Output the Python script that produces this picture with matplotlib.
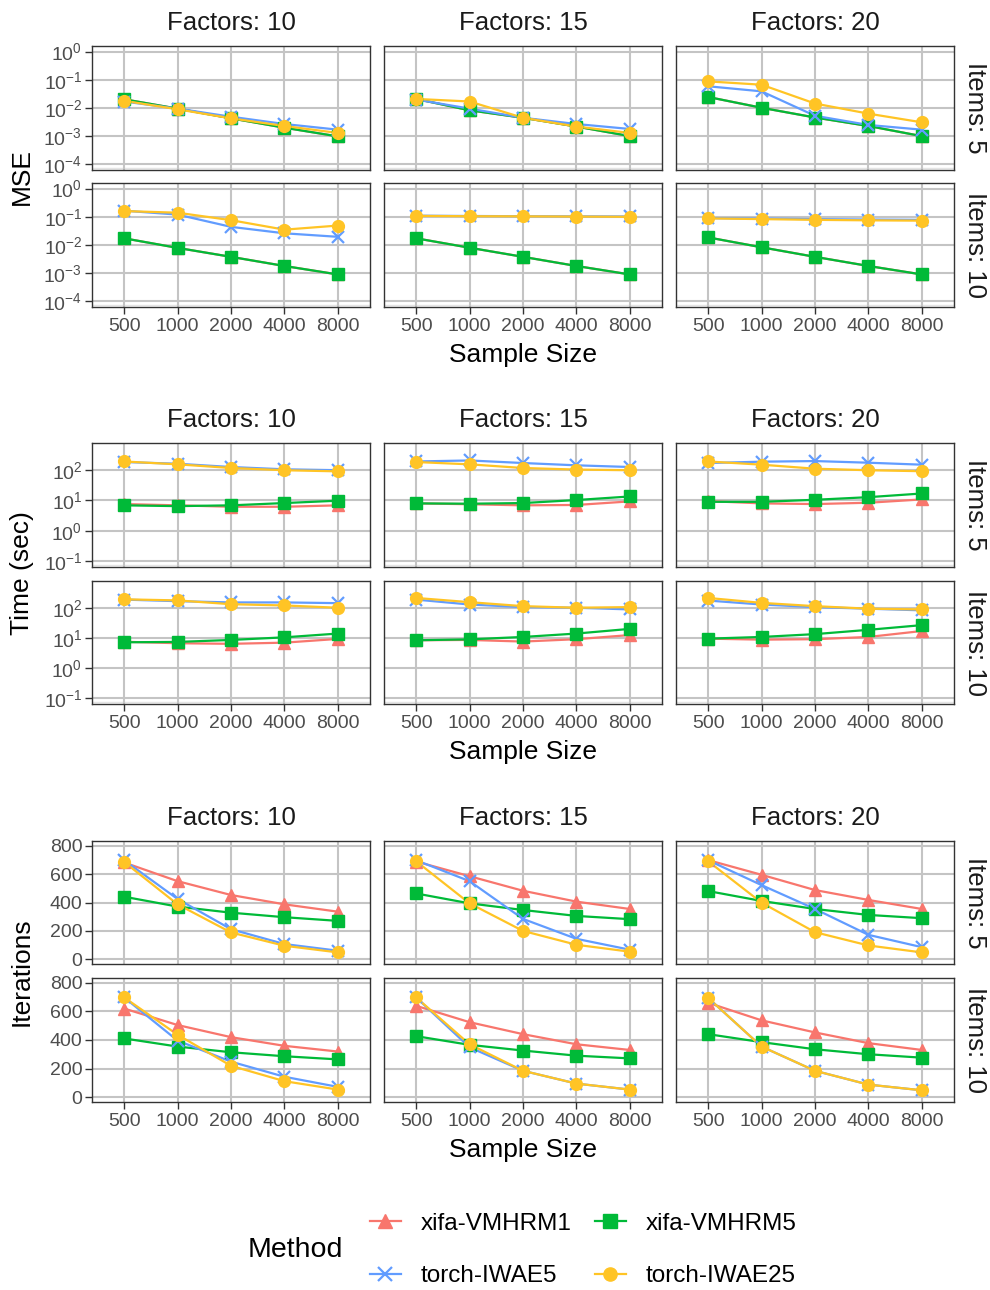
import matplotlib.pyplot as plt
from matplotlib.lines import Line2D
from matplotlib.ticker import FixedLocator, LogFormatterSciNotation, NullLocator

plt.rcParams["font.family"] = ["Liberation Sans", "DejaVu Sans"]
plt.rcParams["mathtext.fontset"] = "custom"
plt.rcParams["mathtext.rm"] = "Liberation Sans"
plt.rcParams["mathtext.it"] = "Liberation Sans:italic"
plt.rcParams["mathtext.default"] = "regular"

# facets and methods
sample_sizes = ["500", "1000", "2000", "4000", "8000"]
factors = [10, 15, 20]
items = [5, 10]
methods = ["xifa-VMHRM1", "xifa-VMHRM5", "torch-IWAE5", "torch-IWAE25"]
colors = ["#F8766D", "#00BA38", "#619CFF", "#FFC425"]
markers = ["^", "s", "x", "o"]

# MSE, rows of each list = Factors 10 / 15 / 20
mse_i5_vmhrm1 = [[0.0204, 0.0095, 0.0043, 0.0020, 0.00098],
                 [0.021, 0.0083, 0.0045, 0.0022, 0.0010],
                 [0.0246, 0.0102, 0.0046, 0.0023, 0.0010]]
mse_i5_vmhrm5 = [[0.0204, 0.0095, 0.0043, 0.0020, 0.00098],
                 [0.021, 0.0083, 0.0045, 0.0022, 0.0010],
                 [0.0246, 0.0102, 0.0046, 0.0023, 0.0010]]
mse_i5_iwae5 = [[0.017, 0.0095, 0.0049, 0.0027, 0.0017],
                [0.020, 0.0095, 0.0045, 0.0027, 0.0018],
                [0.059, 0.039, 0.0053, 0.0025, 0.0017]]
mse_i5_iwae25 = [[0.018, 0.009, 0.0043, 0.0023, 0.0013],
                 [0.021, 0.017, 0.0045, 0.0022, 0.0013],
                 [0.088, 0.067, 0.0144, 0.0063, 0.0031]]
mse_i10_vmhrm1 = [[0.0173, 0.0079, 0.0038, 0.0018, 0.0009],
                  [0.0173, 0.0080, 0.0038, 0.0018, 0.0009],
                  [0.0186, 0.0083, 0.0038, 0.0018, 0.0009]]
mse_i10_vmhrm5 = [[0.0173, 0.0079, 0.0038, 0.0018, 0.0009],
                  [0.0173, 0.0080, 0.0038, 0.0018, 0.0009],
                  [0.0186, 0.0083, 0.0038, 0.0018, 0.0009]]
mse_i10_iwae5 = [[0.165, 0.12, 0.044, 0.026, 0.0195],
                 [0.11, 0.107, 0.105, 0.104, 0.103],
                 [0.09, 0.087, 0.083, 0.080, 0.078]]
mse_i10_iwae25 = [[0.16, 0.14, 0.076, 0.035, 0.049],
                  [0.108, 0.105, 0.104, 0.102, 0.100],
                  [0.088, 0.083, 0.078, 0.075, 0.073]]

# Time (sec)
time_i5_vmhrm1 = [[7.6, 6.9, 6.2, 6.2, 6.9],
                  [8.0, 7.5, 6.9, 7.1, 9.3],
                  [9.5, 8.0, 7.6, 8.4, 10.8]]
time_i5_vmhrm5 = [[6.9, 6.5, 6.9, 8.2, 9.8],
                  [8.0, 7.8, 8.2, 10.3, 13.5],
                  [9.0, 9.0, 10.5, 12.8, 16.9]]
time_i5_iwae5 = [[182, 160, 125, 105, 98],
                 [190, 205, 169, 142, 125],
                 [169, 187, 196, 173, 149]]
time_i5_iwae25 = [[190, 153, 116, 98, 90],
                  [182, 153, 116, 103, 98],
                  [190, 149, 110, 98, 91]]
time_i10_vmhrm1 = [[7.5, 6.7, 6.4, 7.0, 9.3],
                   [8.4, 8.6, 7.6, 9.1, 12.5],
                   [9.5, 8.8, 9.1, 10.8, 17.0]]
time_i10_vmhrm5 = [[7.2, 7.4, 8.6, 10.5, 14.0],
                   [8.4, 9.0, 10.8, 14.0, 20.0],
                   [9.5, 10.8, 13.4, 18.6, 26.6]]
time_i10_iwae5 = [[186, 165, 150, 150, 142],
                  [186, 128, 105, 100, 88],
                  [173, 128, 105, 93, 82]]
time_i10_iwae25 = [[190, 175, 131, 119, 100],
                   [211, 153, 113, 100, 105],
                   [211, 145, 113, 93, 88]]

# Iterations
iter_i5_vmhrm1 = [[683, 551, 453, 387, 335],
                  [690, 586, 483, 406, 354],
                  [700, 596, 488, 418, 354]]
iter_i5_vmhrm5 = [[441, 371, 328, 296, 270],
                  [464, 394, 347, 305, 282],
                  [481, 411, 354, 312, 289]]
iter_i5_iwae5 = [[699, 425, 211, 106, 59],
                 [699, 551, 284, 143, 66],
                 [699, 523, 354, 171, 84]]
iter_i5_iwae25 = [[687, 387, 188, 94, 47],
                  [692, 394, 199, 101, 52],
                  [692, 399, 190, 96, 47]]
iter_i10_vmhrm1 = [[621, 505, 420, 359, 319],
                   [640, 525, 441, 370, 330],
                   [661, 538, 453, 378, 330]]
iter_i10_vmhrm5 = [[411, 354, 314, 286, 264],
                   [427, 366, 326, 290, 271],
                   [441, 385, 335, 300, 276]]
iter_i10_iwae5 = [[699, 396, 248, 142, 71],
                  [699, 349, 184, 94, 52],
                  [696, 354, 184, 87, 47]]
iter_i10_iwae25 = [[699, 437, 219, 111, 52],
                   [699, 370, 184, 94, 52],
                   [696, 354, 184, 87, 47]]

blocks = [
    {"ylabel": "MSE", "log": True,
     "data": [[mse_i5_vmhrm1, mse_i5_vmhrm5, mse_i5_iwae5, mse_i5_iwae25],
              [mse_i10_vmhrm1, mse_i10_vmhrm5, mse_i10_iwae5, mse_i10_iwae25]],
     "ticks": [1e-4, 1e-3, 1e-2, 1e-1, 1], "ylim": (10 ** -4.2, 10 ** 0.2), "minor": 10 ** -4.12},
    {"ylabel": "Time (sec)", "log": True,
     "data": [[time_i5_vmhrm1, time_i5_vmhrm5, time_i5_iwae5, time_i5_iwae25],
              [time_i10_vmhrm1, time_i10_vmhrm5, time_i10_iwae5, time_i10_iwae25]],
     "ticks": [0.1, 1, 10, 100], "ylim": (10 ** -1.185, 10 ** 2.885), "minor": 10 ** -1.11},
    {"ylabel": "Iterations", "log": False,
     "data": [[iter_i5_vmhrm1, iter_i5_vmhrm5, iter_i5_iwae5, iter_i5_iwae25],
              [iter_i10_vmhrm1, iter_i10_vmhrm5, iter_i10_iwae5, iter_i10_iwae25]],
     "ticks": [0, 200, 400, 600, 800], "ylim": (-35, 835), "minor": None},
]

W, H = 990, 1290
fig = plt.figure(figsize=(9.9, 12.9), dpi=100)

col_x = [(92, 370), (384, 662), (676, 954)]
row_y = [[(46, 170), (183, 307)], [(443, 567), (581, 704)], [(841, 964), (978, 1102)]]

grid_col = "#C4C4C4"
border_col = "#333333"
tick_col = "#4D4D4D"


def px_axes(x0, x1, y0, y1):
    return fig.add_axes([x0 / W, 1 - y1 / H, (x1 - x0) / W, (y1 - y0) / H])


for b, blk in enumerate(blocks):
    for r in range(2):
        y0, y1 = row_y[b][r]
        for c in range(3):
            x0, x1 = col_x[c]
            ax = px_axes(x0, x1, y0, y1)
            xs = list(range(len(sample_sizes)))
            # lines first, points on top (like ggplot layers)
            for m in range(len(methods)):
                vals = blk["data"][r][m][c]
                ax.plot(xs, vals, color=colors[m], lw=1.6, zorder=2 + m * 0.01)
            for m in range(len(methods)):
                vals = blk["data"][r][m][c]
                if markers[m] == "x":
                    ax.plot(xs, vals, ls="none", marker="x", ms=9, mew=1.6,
                            color=colors[m], zorder=3 + m * 0.01)
                else:
                    ax.plot(xs, vals, ls="none", marker=markers[m], ms=8.5,
                            color=colors[m], mec=colors[m], zorder=3 + m * 0.01)
            if blk["log"]:
                ax.set_yscale("log")
                ax.yaxis.set_major_formatter(LogFormatterSciNotation())
            ax.yaxis.set_major_locator(FixedLocator(blk["ticks"]))
            ax.yaxis.set_minor_locator(NullLocator())
            ax.set_ylim(*blk["ylim"])
            ax.set_xlim(-0.6, 4.6)
            ax.set_xticks(xs)
            ax.grid(True, color=grid_col, lw=1.5, zorder=0)
            if blk["minor"] is not None:
                ax.axhline(blk["minor"], color="#E4E4E4", lw=1.0, zorder=0)
            ax.set_axisbelow(True)
            for sp in ax.spines.values():
                sp.set_color(border_col)
                sp.set_linewidth(1.0)
            ax.tick_params(axis="both", length=4.8, width=1.0, color=border_col,
                           labelcolor=tick_col, labelsize=14)
            ax.tick_params(axis="x", pad=3.2)
            ax.tick_params(axis="y", pad=2.2)
            if c > 0:
                ax.tick_params(axis="y", left=False, labelleft=False)
            if r == 0:
                ax.tick_params(axis="x", bottom=False, labelbottom=False)
            else:
                ax.set_xticklabels(sample_sizes)
            if r == 0:
                fig.text((x0 + x1) / 2 / W, 1 - (y0 - 23) / H, f"Factors: {factors[c]}",
                         ha="center", va="center", fontsize=18.5, color="#1A1A1A")
        fig.text(975 / W, 1 - (y0 + y1) / 2 / H, f"Items: {items[r]}", rotation=-90,
                 ha="center", va="center", fontsize=18.5, color="#1A1A1A")
    top = row_y[b][0][0]
    bot = row_y[b][1][1]
    fig.text(22 / W, 1 - (top + bot) / 2 / H, blk["ylabel"], rotation=90,
             ha="center", va="center", fontsize=19)
    fig.text((col_x[0][0] + col_x[2][1]) / 2 / W, 1 - (bot + 48) / H, "Sample Size",
             ha="center", va="center", fontsize=19)

# legend
handles = []
for m in range(len(methods)):
    if markers[m] == "x":
        h = Line2D([], [], color=colors[m], lw=1.6, marker="x", ms=10, mew=1.6)
    else:
        h = Line2D([], [], color=colors[m], lw=1.6, marker=markers[m], ms=9.5)
    handles.append(h)
order = [0, 2, 1, 3]
fig.legend([handles[i] for i in order], [methods[i] for i in order], ncol=2,
           loc="center", bbox_to_anchor=(583 / W, 1 - 1250 / H), frameon=False,
           fontsize=17.5, handlelength=1.3, handletextpad=0.8, columnspacing=0.95,
           labelspacing=1.25)
fig.text(248 / W, 1 - 1250 / H, "Method", ha="left", va="center", fontsize=20.5)

fig.savefig("out.png", dpi=100)
